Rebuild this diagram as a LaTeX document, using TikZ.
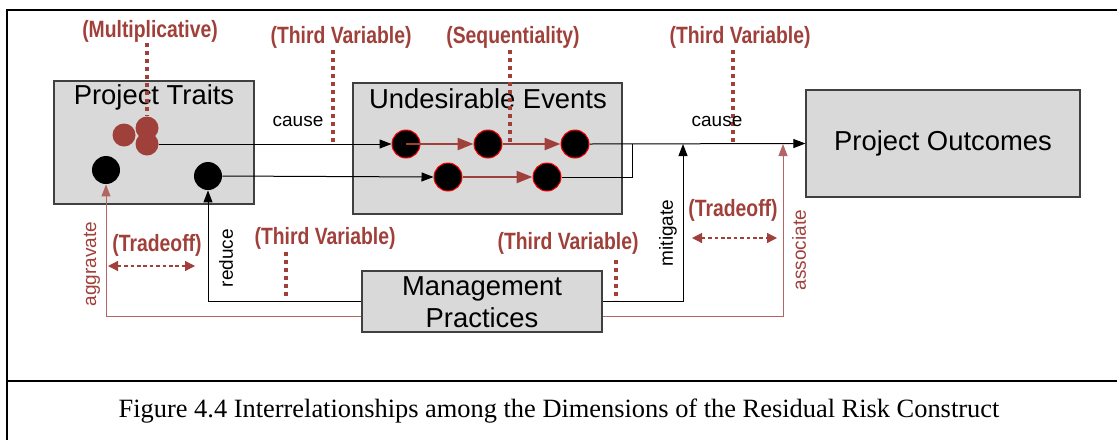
\documentclass[tikz,border=0pt]{standalone}
\usepackage{fontspec}
\setmainfont{Liberation Sans}
\newfontfamily\capfont{Liberation Serif}
\newfontfamily\narrowfont[FakeStretch=0.82]{Liberation Sans}
\usetikzlibrary{arrows.meta}
\definecolor{brick}{RGB}{160,64,58}
\definecolor{boxgray}{RGB}{217,217,217}

\begin{document}
\begin{tikzpicture}[x=0.5pt,y=-0.5pt,
        box/.style={draw=black!75,fill=boxgray,line width=0.6pt,inner sep=0pt},
        title/.style={font=\fontsize{13.7}{16}\selectfont,align=center,inner sep=0pt},
        verb/.style={font=\fontsize{9.5}{11}\selectfont,inner sep=0pt},
        tag/.style={font=\narrowfont\bfseries\fontsize{11.8}{13}\selectfont,text=brick,inner sep=0pt},
        dot/.style={circle,fill=black,minimum size=14pt,inner sep=0pt},
        redot/.style={circle,fill=brick,minimum size=11.5pt,inner sep=0pt},
        event/.style={circle,fill=black,draw=red,line width=0.5pt,minimum size=14pt,inner sep=0pt},
        link/.style={line width=0.5pt,-{Triangle[length=6pt,width=4.5pt]}},
        redlink/.style={draw=brick!80,line width=0.5pt,-{Triangle[length=6pt,width=4.5pt]}},
        chain/.style={draw=brick,line width=1.2pt,-{Triangle[length=8pt,width=6pt]}},
        thirdvar/.style={draw=brick,line width=1.6pt,dash pattern=on 2pt off 2pt},
        trade/.style={draw=brick,line width=0.6pt,dash pattern=on 1.8pt off 1.4pt,
            {Triangle[length=5pt,width=5pt]}-{Triangle[length=5pt,width=5pt]}}]
        \useasboundingbox (0,0) rectangle (1117,440);

        \draw[line width=1pt] (1117,10) -- (7,10) -- (7,440);
        \draw[line width=1pt] (7,381) -- (1117,381);

        \node[box,minimum width=100pt,minimum height=61.5pt] (traits) at (154,142.5) {};
        \node[box,minimum width=134.5pt,minimum height=65.5pt] (events) at (487.5,148.5) {};
        \node[box,minimum width=137pt,minimum height=53.5pt] (outcomes) at (943,143.5) {};
        \node[box,minimum width=120pt,minimum height=30.5pt] (mgmt) at (482,301.5) {};

        \node[title] (traitstitle) at (154,97) {Project Traits};
        \node[title] (eventstitle) at (488,99) {Undesirable Events};
        \node[title] (outcomestitle) at (943,143) {Project Outcomes};
        \node[title] (mgmttitle) at (482,302) {Management\\Practices};

        \node[tag] (multtag) at (150,31) {(Multiplicative)};
        \node[tag] (tvtag1) at (341,37) {(Third Variable)};
        \node[tag] (seqtag) at (513,37) {(Sequentiality)};
        \node[tag] (tvtag3) at (740,37) {(Third Variable)};
        \node[tag] (tvtag2) at (325,238) {(Third Variable)};
        \node[tag] (tvtag4) at (568,243) {(Third Variable)};
        \node[tag] (tradetag1) at (157,245) {(Tradeoff)};
        \node[tag] (tradetag2) at (733,210) {(Tradeoff)};

        \draw[thirdvar] (147,43) -- (147,116);
        \draw[thirdvar] (333,50) -- (333,144);
        \draw[thirdvar] (510,50) -- (510,144);
        \draw[thirdvar] (733,50) -- (733,144);
        \draw[thirdvar] (286,252) -- (286,297);
        \draw[thirdvar] (616,260) -- (616,300);

        \node[redot] (m1) at (124,135) {};
        \node[redot] (m2) at (147,128) {};
        \node[redot] (m3) at (147,144) {};
        \node[dot] (t1) at (106,170) {};
        \node[dot] (t2) at (208,176) {};

        \node[event] (e1) at (406,144) {};
        \node[event] (e2) at (488,144) {};
        \node[event] (e3) at (575,144) {};
        \node[event] (e4) at (448,177) {};
        \node[event] (e5) at (547,177) {};

        \coordinate (merge) at (632,144);
        \coordinate (mit) at (683,144);
        \coordinate (assoc) at (783,144);

        \draw[link] (m3.east) -- (e1.west);
        \draw[link] (t2.east) -- (e4.west);
        \draw[chain] (e1.center) -- (e2.west);
        \draw[chain] (e2.east) -- (e3.west);
        \draw[chain] (e4.east) -- (e5.west);
        \draw[link] (e3.east) -- (outcomes.west);
        \draw[line width=0.5pt] (e5.east) -| (merge);

        \draw[link] (mgmt.east) -| (mit);
        \draw[redlink] ([yshift=-7.25pt]mgmt.east) -| (assoc);
        \draw[link] (mgmt.west) -| (t2.south);
        \draw[redlink] ([yshift=-7.25pt]mgmt.west) -| (t1.south);

        \draw[trade] (108,266) -- (195,266);
        \draw[trade] (692,238) -- (777,238);

        \node[verb] (cause1) at (298,121) {cause};
        \node[verb] (cause2) at (717,121) {cause};
        \node[verb,rotate=90] (reduce) at (226,258) {reduce};
        \node[verb,rotate=90,text=brick] (aggravate) at (92,264) {aggravate};
        \node[verb,rotate=90] (mitigate) at (668,233) {mitigate};
        \node[verb,rotate=90,text=brick] (associate) at (799,250) {associate};

        \node[font=\capfont\fontsize{13.2}{15}\selectfont,inner sep=0pt] (caption) at (559,411)
            {Figure 4.4 Interrelationships among the Dimensions of the Residual Risk Construct};

    \end{tikzpicture}
\end{document}
